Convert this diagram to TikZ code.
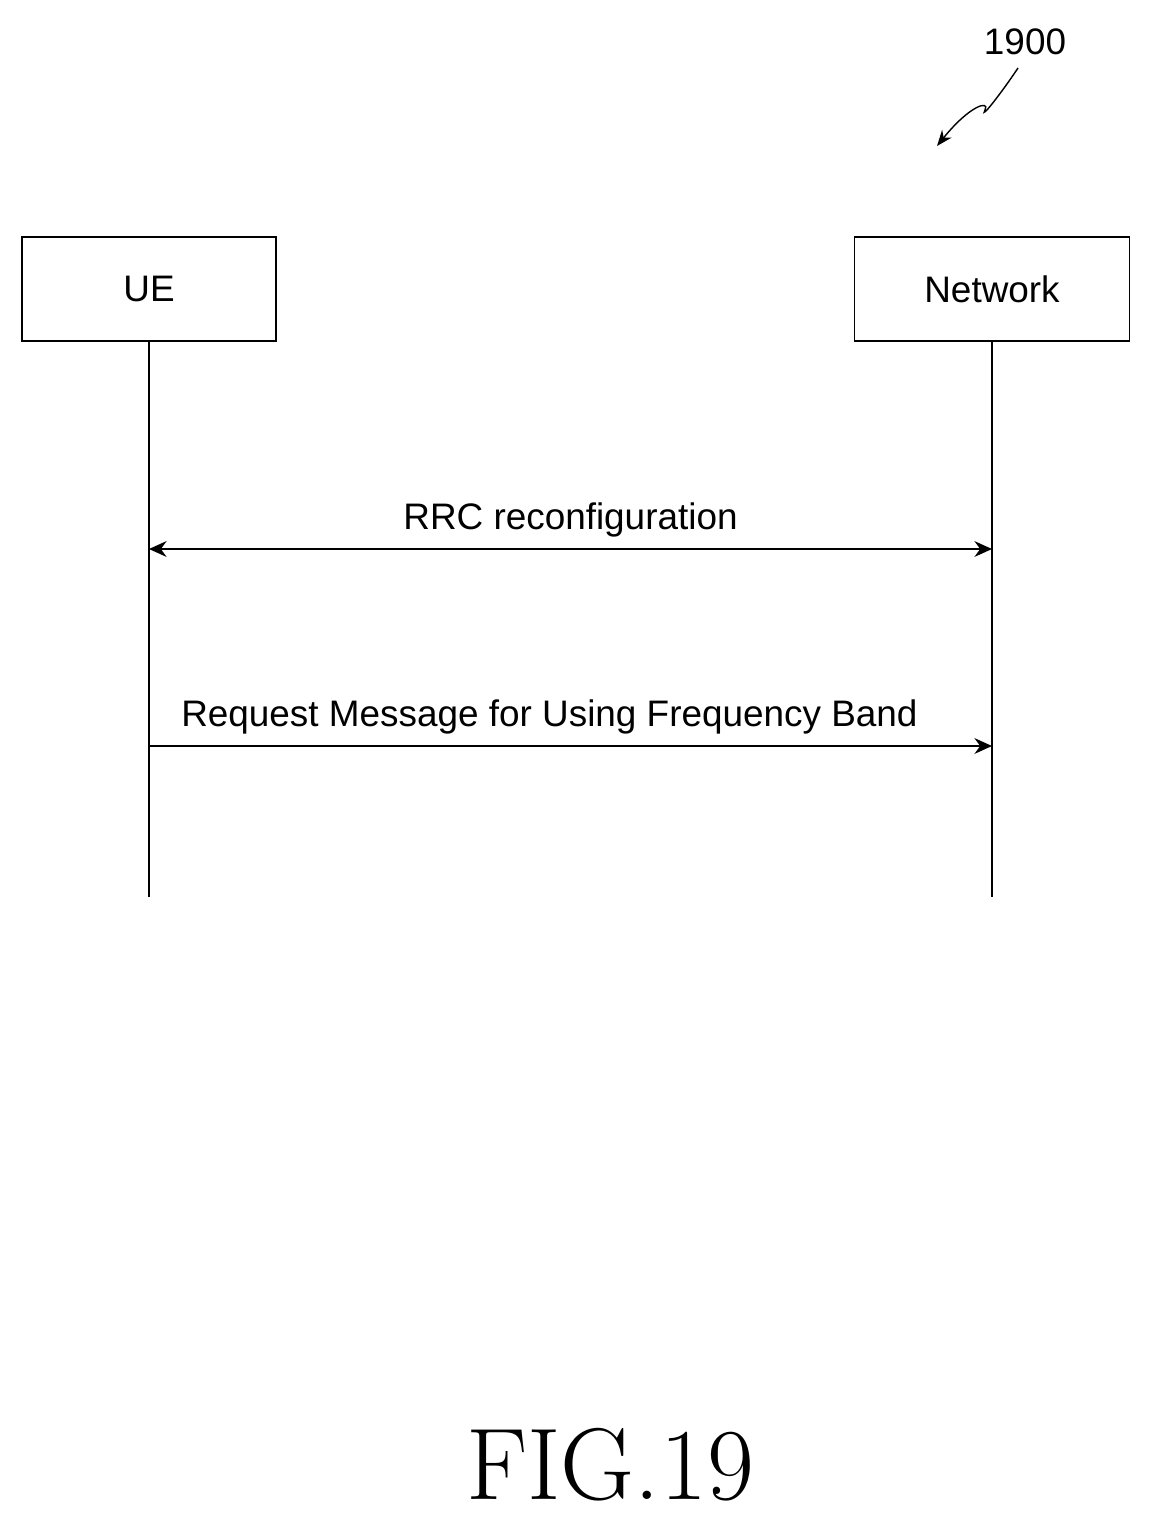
\documentclass[tikz,border=0pt]{standalone}
\usepackage{fontspec}
\setsansfont{Liberation Sans}
\usetikzlibrary{arrows.meta}
\begin{document}
\begin{tikzpicture}[x=0.02cm,y=-0.02cm]
\tikzstyle{entity}=[draw=black,thick,minimum width=5.08cm,minimum height=2.08cm,font=\sffamily\fontsize{21}{24}\selectfont]
\tikzstyle{msg}=[thick,-{Stealth[length=10pt,width=9pt]}]
\tikzstyle{lbl}=[font=\sffamily\fontsize{21}{24}\selectfont,above]
\useasboundingbox (0,0) rectangle (1151,1521);

% Entities
\node [entity,minimum width=5.08cm](ue) at (149,289){UE};
\node [entity,minimum width=5.5cm](net) at (992,289){Network};

% Lifelines
\coordinate (ue_end) at (149,897);
\coordinate (net_end) at (992,897);
\draw [thick] (ue.south) -- (ue_end);
\draw [thick] (net.south) -- (net_end);

% Messages
\coordinate (ue_m1) at (149,549);
\coordinate (net_m1) at (992,549);
\coordinate (ue_m2) at (149,746);
\coordinate (net_m2) at (992,746);
\draw [msg,{Stealth[length=10pt,width=9pt]}-{Stealth[length=10pt,width=9pt]}] (ue_m1) -- node [lbl,yshift=3pt] {RRC reconfiguration} (net_m1);
\draw [msg] (ue_m2) -- node [lbl,yshift=3pt,xshift=-12pt] {Request Message for Using Frequency Band} (net_m2);

% Reference
\node [font=\sffamily\fontsize{21}{24}\selectfont](ref) at (1025,42){1900};
\coordinate (ref_tip) at (937,146);
\draw [thick,-{Stealth[length=9pt,width=7pt]}] (1018,68) .. controls (1000,95) and (980,120) .. (985,110) .. controls (990,100) and (970,105) .. (ref_tip);

% Caption
\node [font=\fontsize{58}{64}\selectfont](fig) at (610,1465){FIG.19};
\end{tikzpicture}
\end{document}
